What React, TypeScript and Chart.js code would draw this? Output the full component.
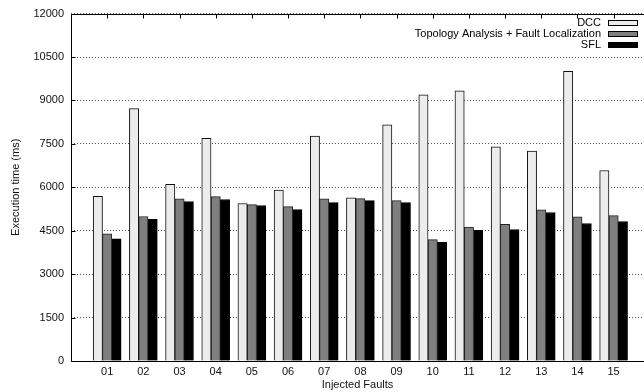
import React, { useEffect, useRef } from 'react';
import { Chart, registerables } from 'chart.js';

Chart.register(...registerables);

const faultLabels = ['01', '02', '03', '04', '05', '06', '07', '08', '09', '10', '11', '12', '13', '14', '15'];
const seriesNames = ['DCC', 'Topology Analysis + Fault Localization', 'SFL'];
const dccValues = [5690, 8720, 6100, 7690, 5440, 5900, 7770, 5640, 8160, 9190, 9330, 7400, 7250, 10010, 6580];
const topoValues = [4390, 4990, 5600, 5680, 5400, 5330, 5600, 5610, 5540, 4190, 4630, 4720, 5220, 4980, 5020];
const sflValues = [4220, 4890, 5510, 5580, 5370, 5230, 5470, 5540, 5470, 4100, 4510, 4540, 5130, 4750, 4820];
const yTickValues = [0, 1500, 3000, 4500, 6000, 7500, 9000, 10500, 12000];

const FONT = '"Liberation Sans", Arial, Helvetica, sans-serif';

const framePlugin = {
  id: 'gnuFrame',
  afterDatasetsDraw(chart: any) {
    const { ctx, chartArea } = chart;
    const xs = chart.scales.x;
    const ys = chart.scales.y;
    ctx.save();
    ctx.strokeStyle = '#000';
    ctx.lineWidth = 1;
    ctx.beginPath();
    const t = Math.round(chartArea.top) + 0.5;
    const l = Math.round(chartArea.left) + 0.5;
    const b = Math.round(chartArea.bottom) + 0.5;
    ctx.moveTo(chartArea.right, t);
    ctx.lineTo(l, t);
    ctx.lineTo(l, b);
    ctx.lineTo(chartArea.right, b);
    ctx.stroke();
    ctx.beginPath();
    for (let i = 0; i < faultLabels.length; i++) {
      const px = Math.round(xs.getPixelForValue(i + 1)) + 0.5;
      ctx.moveTo(px, t);
      ctx.lineTo(px, t + 4);
    }
    for (const v of yTickValues) {
      const py = Math.round(ys.getPixelForValue(v)) + 0.5;
      ctx.moveTo(l, py);
      ctx.lineTo(l + 4, py);
    }
    ctx.stroke();
    ctx.restore();
  },
};

const legendPlugin = {
  id: 'gnuLegend',
  afterDraw(chart: any) {
    const { ctx, chartArea } = chart;
    ctx.save();
    ctx.font = `11px ${FONT}`;
    ctx.textAlign = 'right';
    ctx.textBaseline = 'middle';
    chart.data.datasets.forEach((ds: any, i: number) => {
      const cy = chartArea.top + 9 + i * 11;
      ctx.fillStyle = '#000';
      ctx.fillText(ds.label, chartArea.right - 43, cy + 0.5);
      const bx = Math.round(chartArea.right - 36) + 0.5;
      const by = Math.round(cy - 3) + 0.5;
      ctx.fillStyle = ds.backgroundColor;
      ctx.fillRect(bx, by, 29, 5);
      ctx.strokeStyle = '#000';
      ctx.lineWidth = 1;
      ctx.strokeRect(bx, by, 29, 5);
    });
    ctx.restore();
  },
};

export default function App() {
  const ref = useRef<HTMLCanvasElement | null>(null);

  useEffect(() => {
    document.body.style.margin = '0';
    const canvas = ref.current;
    if (!canvas) return;
    const mk = (vals: number[]) => vals.map((v, i) => ({ x: i + 1, y: v }));
    const chart = new Chart(canvas, {
      type: 'bar',
      data: {
        datasets: [
          { label: seriesNames[0], data: mk(dccValues), backgroundColor: '#ececec', borderColor: '#111', borderWidth: 1 },
          { label: seriesNames[1], data: mk(topoValues), backgroundColor: '#7f7f7f', borderColor: '#222', borderWidth: 1 },
          { label: seriesNames[2], data: mk(sflValues), backgroundColor: '#000000', borderColor: '#000', borderWidth: 1 },
        ] as any,
      },
      options: {
        responsive: false,
        animation: false,
        layout: { padding: { top: 13, right: 0, bottom: 0, left: 0 } },
        plugins: { legend: { display: false }, tooltip: { enabled: false } },
        datasets: { bar: { barThickness: 9.3, grouped: true } } as any,
        scales: {
          x: {
            type: 'linear',
            offset: false,
            min: 0,
            max: 15.84,
            grid: { display: false, drawTicks: false, offset: false },
            border: { display: false },
            ticks: {
              stepSize: 1,
              includeBounds: false,
              autoSkip: false,
              maxRotation: 0,
              padding: 4,
              color: '#111',
              font: { family: FONT, size: 11 },
              callback: (v: any) => {
                const n = Number(v);
                return Number.isInteger(n) && n >= 1 && n <= faultLabels.length ? faultLabels[n - 1] : '';
              },
            },
            title: {
              display: true,
              text: 'Injected Faults',
              color: '#111',
              font: { family: FONT, size: 11 },
              padding: { top: 0, bottom: 0 },
            },
            afterFit: (s: any) => { s.height = 31; },
          } as any,
          y: {
            type: 'linear',
            min: 0,
            max: 12000,
            grid: { display: true, drawTicks: false, color: '#555', lineWidth: 1 },
            border: { display: false, dash: [1, 2] },
            ticks: {
              stepSize: 1500,
              padding: 7,
              color: '#111',
              font: { family: FONT, size: 11 },
              callback: (v: any) => String(v),
            },
            title: {
              display: true,
              text: 'Execution time (ms)',
              color: '#111',
              font: { family: FONT, size: 11 },
              padding: { top: 9, bottom: 0 },
            },
            afterFit: (s: any) => { s.width = 71; },
          } as any,
        },
      },
      plugins: [framePlugin, legendPlugin],
    });
    return () => chart.destroy();
  }, []);

  return (
    <div style={{ position: 'absolute', left: 0, top: 0, width: 644, height: 392 }}>
      <canvas ref={ref} width={644} height={392} />
    </div>
  );
}
